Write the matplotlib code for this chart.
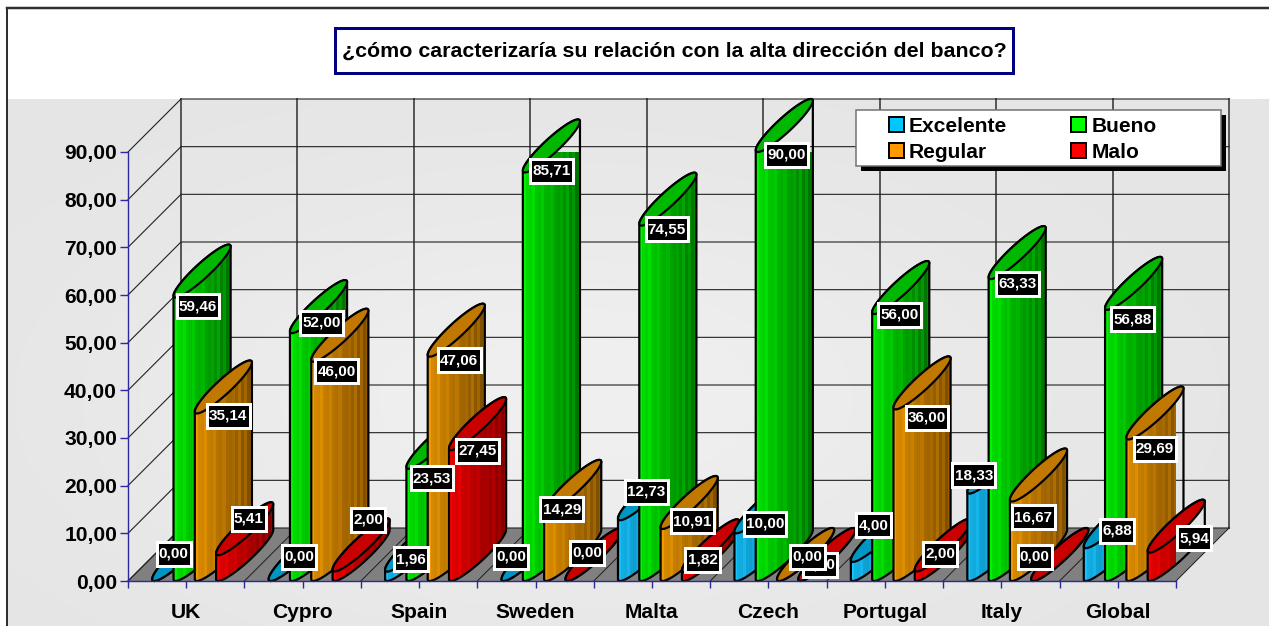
import numpy as np
import matplotlib
matplotlib.use("Agg")
import matplotlib.pyplot as plt
from matplotlib.patches import Polygon, Rectangle, Patch
from matplotlib.path import Path
from matplotlib.ticker import FuncFormatter

categories = ["UK", "Cypro", "Spain", "Sweden", "Malta", "Czech", "Portugal", "Italy", "Global"]
series = ["Excelente", "Bueno", "Regular", "Malo"]
excelente = [0.00, 0.00, 1.96, 0.00, 12.73, 10.00, 4.00, 18.33, 6.88]
bueno = [59.46, 52.00, 23.53, 85.71, 74.55, 90.00, 56.00, 63.33, 56.88]
regular = [35.14, 46.00, 47.06, 14.29, 10.91, 0.00, 36.00, 16.67, 29.69]
malo = [5.41, 2.00, 27.45, 0.00, 1.82, 0.00, 2.00, 0.00, 5.94]
title = "¿cómo caracterizaría su relación con la alta dirección del banco?"

# label offsets in pixels from the front of each cylinder top (per series, per category)
label_dx = [[-7, 2, -3, -19, 0, 2, -6, -22, 5],
            [-4, 3, -3, 0, -1, 2, -1, 0, -1],
            [5, -3, 3, -11, 3, 2, 5, -5, 0],
            [4, 7, 0, -7, -8, -7, -3, -25, 18]]
label_dy = [[-29, -26, -14, -26, -30, -11, -38, -20, -19],
            [7, -12, 8, -3, 2, 1, -1, 3, 8],
            [1, 8, 2, -5, -9, -26, 7, 14, 8],
            [-38, -53, -1, -30, -14, -18, -19, -26, -16]]

W, H = 1269, 626
X0, X1, Y0, Y1 = 128, 1176, 581, 152   # plot front plane, in pixels
DEPTH = 53
BAR_W = 21.3

plt.rcParams["font.family"] = ["Liberation Sans", "DejaVu Sans"]
fig = plt.figure(figsize=(W / 100, H / 100), dpi=100, facecolor="white")

def px(n):
    return n * 0.72

def label_box(x0, y0, width, height, mutation_size):
    pad_x, pad_y = 2.2, 5.0
    x = x0 - pad_x
    y = y0 - pad_y
    w = width + 2 * pad_x
    h = height + 2 * pad_y
    return Path([(x, y), (x + w, y), (x + w, y + h), (x, y + h), (x, y)],
                [Path.MOVETO, Path.LINETO, Path.LINETO, Path.LINETO, Path.CLOSEPOLY])

# page background
bg = fig.add_axes([7 / W, 0, (W - 7) / W, (H - 99) / H], zorder=0)
yy, xx = np.mgrid[0:527, 0:1262]
shade = 228 + 11 * np.exp(-((xx - 560) / 430.0) ** 2 - ((yy - 300) / 210.0) ** 2)
bg.imshow(shade, cmap="gray", vmin=0, vmax=255, aspect="auto", interpolation="bilinear")
bg.axis("off")
fig.add_artist(plt.Line2D([7 / W, 7 / W], [0, 1 - 8 / H], color="#303030", lw=px(2)))
fig.add_artist(plt.Line2D([7 / W, 1], [1 - 8 / H, 1 - 8 / H], color="#303030", lw=px(2.5)))

# main axes: x in categories, y in values
ax = fig.add_axes([X0 / W, 1 - Y0 / H, (X1 - X0) / W, (Y0 - Y1) / H], zorder=1)
ax.patch.set_visible(False)
ux = len(categories) / (X1 - X0)
uy = 90 / (Y0 - Y1)
dx, dy = DEPTH * ux, DEPTH * uy
n = len(categories)

# floor
ax.add_patch(Polygon([(0, 0), (n, 0), (n + dx, dy), (dx, dy)], fc="#808080", ec="none", clip_on=False, zorder=1))
for i in range(n + 1):
    ax.plot([i, i + dx], [0, dy], color="#202020", lw=px(1), clip_on=False, zorder=1.5)
    ax.plot([i + dx, i + dx], [dy, 90 + dy], color="#585858", lw=px(2), clip_on=False, zorder=1.4)
for v in range(0, 100, 10):
    ax.plot([0, dx, n + dx], [v, v + dy, v + dy], color="#202020", lw=px(1.1), clip_on=False, zorder=1.5)

# cylinders
styles = [
    dict(left=(0.08, 0.70, 0.90), right=(0.02, 0.42, 0.60), top="#0096C4"),
    dict(left=(0.0, 0.88, 0.0), right=(0.0, 0.44, 0.0), top="#00B800"),
    dict(left=(0.86, 0.55, 0.0), right=(0.48, 0.30, 0.0), top="#C07800"),
    dict(left=(0.90, 0.0, 0.0), right=(0.48, 0.0, 0.0), top="#C80000"),
]
legend_colors = ["#00C8FF", "#00FF00", "#FF9900", "#FF0000"]
values = [excelente, bueno, regular, malo]

a_px, d_px = BAR_W / 2, DEPTH / 2
t_ext = np.arctan2(d_px, a_px)
full = np.linspace(0, 2 * np.pi, 90)

def ring(cx, cv, t):
    return np.column_stack([cx + (a_px * np.cos(t) + d_px * np.sin(t)) * ux,
                            cv + d_px * np.sin(t) * uy])

bands = 19
pos = np.linspace(0, 1, bands)
ripple = np.where(np.arange(bands) % 3 == 0, 1.09, 1.0)
ripple[-5:] = np.where(np.arange(5) % 2 == 0, 1.22, 1.0)

z = 3
for i in range(n):
    for j in range(4):
        v = values[j][i]
        cx = i + 0.5 + (j - 1.5) * BAR_W * ux + d_px * ux
        cv0 = d_px * uy
        low = ring(cx, cv0, np.linspace(t_ext - np.pi, t_ext, 50))
        up = ring(cx, cv0 + v, np.linspace(t_ext, t_ext + np.pi, 50))
        st = styles[j]
        body = Polygon(np.vstack([low, up]), closed=True, fc="none", ec="black", lw=px(2.2),
                       joinstyle="round", clip_on=False, zorder=z + 0.2)
        ax.add_patch(body)
        grad = np.zeros((1, bands, 3))
        for c in range(3):
            grad[0, :, c] = np.clip((st["left"][c] + (st["right"][c] - st["left"][c]) * pos) * ripple, 0, 1)
        clip = Polygon(np.vstack([low, up]), closed=True, transform=ax.transData)
        xs = np.vstack([low, up])[:, 0]
        ys = np.vstack([low, up])[:, 1]
        im = ax.imshow(grad, extent=[xs.min(), xs.max(), ys.min(), ys.max()], aspect="auto",
                       interpolation="nearest", zorder=z + 0.1, clip_on=True)
        im.set_clip_path(clip)
        cap = Polygon(ring(cx, cv0 + v, full), closed=True, fc=st["top"], ec="black", lw=px(2.2),
                      joinstyle="round", clip_on=False, zorder=z + 0.3)
        ax.add_patch(cap)
        z += 1

# value labels (later series underneath earlier ones)
for i in range(n):
    for j in (3, 2, 1, 0):
        v = values[j][i]
        cx = i + 0.5 + (j - 1.5) * BAR_W * ux + d_px * ux
        z += 1
        ax.annotate(f"{v:.2f}".replace(".", ","), xy=(cx, v), xycoords="data",
                    xytext=(px(label_dx[j][i]), -px(label_dy[j][i])), textcoords="offset points",
                    ha="center", va="center_baseline", color="white", fontsize=px(15.3), fontweight="bold",
                    bbox=dict(boxstyle=label_box, fc="black", ec="white", lw=px(3)),
                    annotation_clip=False, zorder=z)

ax.set_xlim(0, n)
ax.set_ylim(0, 90)

# axes furniture
for s in ("top", "right"):
    ax.spines[s].set_visible(False)
for s in ("left", "bottom"):
    ax.spines[s].set_color("#2A2A9A")
    ax.spines[s].set_linewidth(px(1.4))
    ax.spines[s].set_zorder(2000)
ax.set_yticks(np.arange(0, 100, 10))
ax.yaxis.set_major_formatter(FuncFormatter(lambda v, _: f"{v:.2f}".replace(".", ",")))
ax.tick_params(axis="y", length=px(8), width=px(1.4), color="#2A2A9A", pad=px(3),
               labelsize=px(21), labelcolor="black")
ax.set_xticks(np.arange(0, n + 0.5, 0.5))
ax.set_xticklabels([categories[int(k // 2)] if k % 2 else "" for k in range(2 * n + 1)], fontweight="bold")
ax.tick_params(axis="x", length=px(7), width=px(1.4), color="#2A2A9A", pad=px(15),
               labelsize=px(21), labelcolor="black")
for lab in ax.get_yticklabels():
    lab.set_fontweight("bold")

# legend
lx0, lx1, ly0, ly1 = 856, 1221, 110, 166
def fig_rect(x0, y0, x1, y1, **kw):
    return Rectangle((x0 / W, 1 - y1 / H), (x1 - x0) / W, (y1 - y0) / H, transform=fig.transFigure, **kw)
fig.add_artist(fig_rect(lx0 + 5, ly0 + 5, lx1 + 5, ly1 + 5, fc="black", ec="none", zorder=5000))
fig.add_artist(fig_rect(lx0, ly0, lx1, ly1, fc="white", ec="#707070", lw=px(1.5), zorder=5001))
order = [0, 2, 1, 3]  # matplotlib fills columns first; reference reads row by row
handles = [Patch(fc=legend_colors[k], ec="black", lw=px(2), label=series[k]) for k in order]
fs = px(21)
leg = fig.legend(handles=handles, ncol=2, frameon=False, prop=dict(size=fs, weight="bold"),
                 loc="upper left", bbox_to_anchor=(889 / W, 1 - 116.5 / H), borderpad=0, borderaxespad=0,
                 handlelength=15 / 21, handleheight=15 / 21, handletextpad=5 / 21, columnspacing=64 / 21,
                 labelspacing=0.37)
leg.set_zorder(5002)

# title
fig.add_artist(fig_rect(335, 28, 1013, 73, fc="white", ec="#000080", lw=px(3), zorder=5))
fig.text(674 / W, 1 - 51 / H, title, ha="center", va="center", fontsize=px(21.4), fontweight="bold",
         color="black", zorder=6)

fig.savefig("out.png", dpi=100)
